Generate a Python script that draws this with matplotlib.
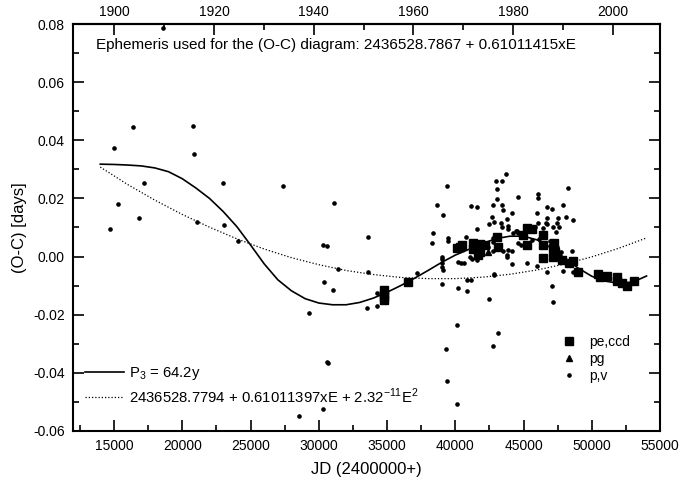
import numpy as np
import matplotlib.pyplot as plt
from matplotlib.ticker import MultipleLocator, FixedLocator, FormatStrFormatter

plt.rcParams['font.family'] = 'Liberation Sans'
plt.rcParams['mathtext.fontset'] = 'custom'
plt.rcParams['mathtext.rm'] = 'Liberation Sans'
plt.rcParams['axes.unicode_minus'] = False

# photographic / visual timings (JD-2400000, O-C days)
pv_jd = [14710, 14978, 15296, 16419, 16857, 17179, 18570, 20767, 20841, 21105,
         22965, 23039, 24111, 27360, 28532, 29287, 30310, 30335, 30580, 30359,
         31018, 30628, 30660, 31096, 31434, 33582, 33582, 33557, 34268, 34268,
         37157, 38273, 38395, 38639, 39078, 39396, 39055, 39055, 39055, 39055,
         39080, 39055, 39348, 39373, 40105, 40129, 39470, 39470, 40227, 40398,
         40618, 40227, 40862, 40862, 41154, 40809, 41105, 41203, 41569, 41618,
         41153, 41618, 41618, 42424, 42448, 42448, 42668, 42741, 42741, 42790,
         42790, 42790, 42839, 42839, 42860, 43005, 43054, 43078, 43156, 43327,
         43395, 43449, 43449, 43522, 43522, 43723, 43767, 43815, 43815, 43840,
         43888, 43888, 44133, 44158, 44182, 44255, 44475, 44546, 44573, 44598,
         44598, 44817, 45232, 45598, 45622, 45842, 46012, 46012, 46037, 46037,
         46086, 46110, 46451, 46647, 46695, 46695, 46695, 46744, 46940, 47043,
         47088, 47111, 47135, 47135, 47337, 47376, 47376, 47474, 47474, 47501,
         47620, 47767, 47868, 47868, 48111, 48259, 48526, 48600, 48600]
pv_oc = [0.0096, 0.0374, 0.0182, 0.0445, 0.0132, 0.0254, 0.0786, 0.0451, 0.0353, 0.0119,
         0.0252, 0.0109, 0.0054, 0.0242, -0.0549, -0.0193, -0.0525, 0.0041, 0.0036, -0.0086,
         -0.0116, -0.0362, -0.0368, 0.0185, -0.0043, 0.0066, -0.0054, -0.0177, -0.0169, -0.0124,
         -0.0055, 0.0046, 0.0082, 0.0179, 0.0144, 0.0243, 0.0000, -0.0010, -0.0023, -0.0037,
         -0.0048, -0.0095, -0.0320, -0.0429, -0.0506, -0.0237, 0.0063, 0.0055, -0.0018, -0.0021,
         -0.0023, -0.0108, -0.0118, -0.0081, -0.0081, 0.0067, 0.0000, -0.0008, -0.0006, -0.0012,
         0.0175, 0.0172, 0.0096, 0.0034, 0.0112, -0.0147, 0.0135, 0.0065, 0.0019, 0.0050,
         0.0179, -0.0308, 0.0119, -0.0063, -0.0060, 0.0261, 0.0197, 0.0232, -0.0262, 0.0117,
         0.0260, 0.0177, 0.0103, 0.0160, 0.0020, 0.0284, 0.0000, 0.0128, 0.0006, 0.0095,
         0.0106, 0.0022, -0.0025, 0.0020, 0.0151, 0.0080, 0.0089, 0.0088, 0.0080, 0.0204,
         0.0046, 0.0039, -0.0021, 0.0095, 0.0057, 0.0101, 0.0150, -0.0031, 0.0214, 0.0203,
         0.0117, 0.0062, 0.0099, 0.0117, 0.0134, 0.0112, -0.0054, 0.0172, 0.0055, 0.0011,
         0.0163, -0.0100, 0.0101, -0.0155, 0.0007, 0.0085, 0.0051, 0.0115, 0.0034, 0.0132,
         0.0103, 0.0017, 0.0179, -0.0050, 0.0135, 0.0235, 0.0020, 0.0126, -0.0052]

# photoelectric / CCD timings
ccd_jd = [34740, 34740, 34740, 34740, 36563, 40152, 40349, 40496, 41276, 41325,
          41813, 41813, 41691, 42180, 43078, 43156, 44940, 45232, 45598, 45232,
          46403, 46403, 46403, 47184, 47306, 47184, 47430, 47230, 47794, 48356,
          48600, 49017, 50479, 50602, 51092, 51825, 51873, 52191, 52557, 53094]
ccd_oc = [-0.0115, -0.0128, -0.0140, -0.0150, -0.0088, 0.0028, 0.0034, 0.0039, 0.0046, 0.0025,
          0.0043, 0.0017, 0.0006, 0.0040, 0.0066, 0.0034, 0.0074, 0.0099, 0.0096, 0.0040,
          0.0074, 0.0040, -0.0004, 0.0029, 0.0017, 0.0000, 0.0006, 0.0045, -0.0012, -0.0023,
          -0.0017, -0.0052, -0.0060, -0.0069, -0.0067, -0.0069, -0.0084, -0.0092, -0.0101, -0.0083]

# photographic (pg)
pg_jd = [42375]
pg_oc = [0.0017]

# LTTE fit, P3 = 64.2 y
fit_jd = [14000, 15000, 16000, 17000, 18000, 19000, 20000, 21000, 22000, 23000,
          24000, 25000, 26000, 27000, 28000, 29000, 30000, 31000, 32000, 33000,
          34000, 35000, 36000, 37000, 38000, 39000, 40000, 41000, 42000, 43000,
          44000, 45000, 46000, 47000, 48000, 49000, 50000, 51000, 52000, 53000, 54000]
fit_oc = [0.0318, 0.0317, 0.0315, 0.0312, 0.0305, 0.0292, 0.0268, 0.0236, 0.0200, 0.0155,
          0.0103, 0.0040, -0.0025, -0.0080, -0.0118, -0.0145, -0.0160, -0.0166, -0.0166, -0.0158,
          -0.0143, -0.0123, -0.0100, -0.0075, -0.0048, -0.0020, 0.0005, 0.0025, 0.0045, 0.0062,
          0.0070, 0.0070, 0.0057, 0.0030, -0.0005, -0.0040, -0.0068, -0.0085, -0.0092, -0.0088, -0.0067]

# quadratic ephemeris
quad_jd = [14000, 16000, 18000, 20000, 22000, 24000, 26000, 28000, 30000, 32000, 34000,
           36000, 38000, 40000, 42000, 44000, 46000, 48000, 50000, 52000, 54000]
quad_oc = [0.0308, 0.0248, 0.0194, 0.0145, 0.0101, 0.0061, 0.0026, -0.0004, -0.0028, -0.0048, -0.0062,
           -0.0072, -0.0076, -0.0076, -0.0071, -0.0061, -0.0046, -0.0026, -0.0001, 0.0029, 0.0064]

years = [1900, 1920, 1940, 1960, 1980, 2000]

fig, ax = plt.subplots(figsize=(6.82, 4.83), dpi=100)
fig.subplots_adjust(left=0.107, right=0.968, top=0.950, bottom=0.108)

l1, = ax.plot(fit_jd, fit_oc, color='black', lw=1.2)
l2, = ax.plot(quad_jd, quad_oc, color='black', lw=0.9, linestyle=(0, (1, 1.6)))
m1, = ax.plot(ccd_jd, ccd_oc, 's', color='black', ms=6, linestyle='none')
m2, = ax.plot(pg_jd, pg_oc, '^', color='black', ms=5, linestyle='none')
m3, = ax.plot(pv_jd, pv_oc, 'o', color='black', ms=2.3, linestyle='none')

ax.set_xlim(12000, 55000)
ax.set_ylim(-0.06, 0.08)
ax.xaxis.set_major_locator(MultipleLocator(5000))
ax.xaxis.set_minor_locator(MultipleLocator(2500))
ax.yaxis.set_major_locator(MultipleLocator(0.02))
ax.yaxis.set_minor_locator(MultipleLocator(0.01))
ax.yaxis.set_major_formatter(FormatStrFormatter('%.2f'))
ax.tick_params(which='both', direction='in', top=False, right=True, labelsize=10, width=1.2)
ax.tick_params(which='major', length=8, pad=6)
ax.tick_params(which='minor', length=4)
for s in ax.spines.values():
    s.set_linewidth(1.5)

top = ax.secondary_xaxis('top', functions=(lambda jd: 1900 + (jd - 15020) / 365.25,
                                            lambda yr: 15020 + (yr - 1900) * 365.25))
top.xaxis.set_major_locator(FixedLocator(years))
top.xaxis.set_minor_locator(FixedLocator([y + 10 for y in years]))
top.tick_params(which='both', direction='in', labelsize=10, width=1.2)
top.tick_params(which='major', length=8, pad=4)
top.tick_params(which='minor', length=4)
top.spines['top'].set_linewidth(1.5)

ax.set_xlabel('JD (2400000+)', fontsize=12, labelpad=6)
ax.set_ylabel('(O-C) [days]', fontsize=12, labelpad=4)

ax.text(0.039, 0.948, 'Ephemeris used for the (O-C) diagram: 2436528.7867 + 0.61011415xE',
        transform=ax.transAxes, fontsize=11, va='center', ha='left')

leg1 = ax.legend([l1, l2], [r'P$_\mathregular{3}$ = 64.2y',
                            r'2436528.7794 + 0.61011397xE + 2.32$^\mathregular{-11}$E$^\mathregular{2}$'],
                 loc='lower left', bbox_to_anchor=(0.021, 0.062), frameon=False, fontsize=10.75,
                 handlelength=2.6, handletextpad=0.35, borderpad=0, borderaxespad=0, labelspacing=0.28)
ax.add_artist(leg1)
ax.legend([m1, m2, m3], ['pe,ccd', 'pg', 'p,v'], loc='upper left', bbox_to_anchor=(0.83, 0.235),
          frameon=False, fontsize=10, handlelength=1.2, handletextpad=0.85, borderpad=0,
          borderaxespad=0, labelspacing=0.2)

fig.savefig('out.png', dpi=100)
